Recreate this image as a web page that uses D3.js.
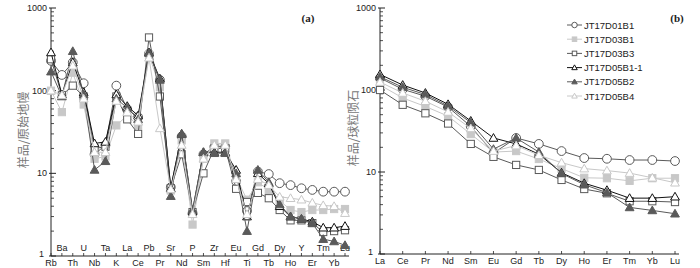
<!DOCTYPE html>
<html>
<head>
<meta charset="utf-8">
<script src="https://cdn.jsdelivr.net/npm/d3@7"></script>
<style>
  body { margin: 0; background: #fff; }
  svg { display: block; font-family: "Liberation Sans", Arial, sans-serif; }
</style>
</head>
<body>
<svg id="chart" width="700" height="268"></svg>
<script>
// spider diagram elements (primitive mantle normalised)
var pmElements = ["Rb","Ba","Th","U","Nb","Ta","K","La","Ce","Pb","Pr","Sr","Nd","P","Sm","Zr","Hf","Eu","Ti","Gd","Tb","Dy","Ho","Y","Er","Tm","Yb","Lu"];
// REE (chondrite normalised)
var reeElements = ["La","Ce","Pr","Nd","Sm","Eu","Gd","Tb","Dy","Ho","Er","Tm","Yb","Lu"];
var yTicks = [1, 10, 100, 1000];

var sampleNames = ["JT17D01B1","JT17D03B1","JT17D03B3","JT17D05B1-1","JT17D05B2","JT17D05B4"];

var pm_D01B1  = [230,155,220,123,17,22,115,60,48,280,135,6.8,28,3.3,17,21,21,8,3.5,10.5,9.8,7.6,7.2,6.6,6.3,6.0,6.0,6.0];
var pm_D03B1  = [100,55,165,68,15,16,38,50,38,270,110,6.2,25,2.4,15,23,23,9,4.8,7.8,6.3,4.7,3.6,3.4,3.6,3.6,3.7,3.7];
var pm_D03B3  = [240,88,115,85,20,21,85,45,30,440,85,6.6,17,3.4,10,20,20,6.5,4.5,5.8,5.0,3.6,2.7,2.7,2.5,1.95,2.0,2.05];
var pm_D05B1  = [290,90,220,95,23,24,90,65,50,290,140,6.6,30,3.5,18,18,18,11,3.0,10,7.5,4.0,3.0,2.8,2.6,2.2,2.2,2.3];
var pm_D05B2  = [170,85,300,90,11,14,80,62,45,285,135,5.3,30,3.6,18,17.5,17.5,10,2.0,11,7.8,4.2,3.0,2.8,2.5,1.6,1.5,1.35];
var pm_D05B4  = [100,88,200,80,18,18,75,55,42,250,35,6.4,22,3.2,15,22,22,8.5,3.2,8.5,7.2,5.2,5.0,4.8,4.4,4.1,4.0,3.3];

var ree_D01B1 = [140,102,84,62,36,17,26,22,18,14.8,14.5,14,14,13.6];
var ree_D03B1 = [115,80,63,48,29,17.5,18,14.4,11,8.5,8.4,7.8,8.4,8.4];
var ree_D03B3 = [100,66,52,39,22,15.3,12.2,10.6,8.0,6.2,5.5,4.4,4.4,4.3];
var ree_D05B1 = [155,115,92,67,42,26,22,16.5,9.8,7.3,6.0,4.8,4.8,5.0];
var ree_D05B2 = [145,108,88,64,40,19,26,17.5,9.6,7.0,5.6,3.7,3.4,3.1];
var ree_D05B4 = [125,92,73,54,34,18,21,16,13,11,10.4,9.7,8.5,7.4];

var pmSeries = [pm_D01B1, pm_D03B1, pm_D03B3, pm_D05B1, pm_D05B2, pm_D05B4];
var reeSeries = [ree_D01B1, ree_D03B1, ree_D03B3, ree_D05B1, ree_D05B2, ree_D05B4];

var dark = "#5a5a5a", light = "#c8c8c8";
var styles = [
  {line: dark, shape: "circle", fill: "#fff", stroke: dark},
  {line: light, shape: "square", fill: light, stroke: light},
  {line: dark, shape: "square", fill: "#fff", stroke: dark},
  {line: "#111", shape: "triangle", fill: "#fff", stroke: "#111"},
  {line: dark, shape: "triangle", fill: dark, stroke: dark},
  {line: light, shape: "triangle", fill: "#fff", stroke: light}
];

var svg = d3.select("#chart");

function marker(g, st, x, y, s) {
  if (st.shape == "circle") {
    g.append("circle").attr("cx", x).attr("cy", y).attr("r", s * 0.55)
      .attr("fill", st.fill).attr("stroke", st.stroke).attr("stroke-width", 1);
  } else if (st.shape == "square") {
    g.append("rect").attr("x", x - s * 0.45).attr("y", y - s * 0.45)
      .attr("width", s * 0.9).attr("height", s * 0.9)
      .attr("fill", st.fill).attr("stroke", st.stroke).attr("stroke-width", 1);
  } else {
    var h = s * 0.55;
    g.append("path")
      .attr("d", "M" + x + "," + (y - h) + "L" + (x + h) + "," + (y + h * 0.75) + "L" + (x - h) + "," + (y + h * 0.75) + "Z")
      .attr("fill", st.fill).attr("stroke", st.stroke).attr("stroke-width", 1);
  }
}

function panel(elements, series, x0, x1, yTop, yBot, twoRows, title, tag, tagX) {
  var x = d3.scalePoint().domain(elements).range([x0, x1]);
  var y = d3.scaleLog().domain([1, 1000]).range([yBot, yTop]);
  var g = svg.append("g");

  // axes lines
  g.append("line").attr("x1", x0).attr("x2", x0).attr("y1", yTop).attr("y2", yBot).attr("stroke", "#222");
  g.append("line").attr("x1", x0).attr("x2", x1 + 4).attr("y1", yBot).attr("y2", yBot).attr("stroke", "#222");

  // y ticks (log, inward)
  var minor = [];
  for (var d = 1; d < 1000; d *= 10) for (var k = 2; k <= 9; k++) minor.push(d * k);
  g.selectAll(".ymin").data(minor).enter().append("line")
    .attr("x1", x0).attr("x2", x0 + 3).attr("y1", function (v) { return y(v); }).attr("y2", function (v) { return y(v); })
    .attr("stroke", "#222").attr("stroke-width", 0.8);
  g.selectAll(".ymaj").data(yTicks).enter().append("line")
    .attr("x1", x0 - 2).attr("x2", x0 + 5).attr("y1", function (v) { return y(v); }).attr("y2", function (v) { return y(v); })
    .attr("stroke", "#222");
  g.selectAll(".ylab").data(yTicks).enter().append("text")
    .attr("x", function (v) { return v == 1 ? x0 - 7 : x0 - 4; })
    .attr("y", function (v) { return v == 1 ? y(v) + 1 : y(v) + 3; })
    .attr("text-anchor", "end").attr("font-size", 9).attr("fill", "#222")
    .text(function (v) { return v; });

  // x ticks
  g.selectAll(".xt").data(elements).enter().append("line")
    .attr("x1", function (e) { return x(e); }).attr("x2", function (e) { return x(e); })
    .attr("y1", yBot).attr("y2", yBot - 3).attr("stroke", "#222").attr("stroke-width", 0.8);
  g.selectAll(".xl").data(elements).enter().append("text")
    .attr("x", function (e) { return x(e); })
    .attr("y", function (e, i) { return twoRows && i % 2 == 1 ? yBot - 5 : yBot + 10; })
    .attr("text-anchor", "middle").attr("font-size", 9).attr("fill", "#222")
    .text(function (e) { return e; });

  // y title
  g.append("text")
    .attr("transform", "translate(" + title.x + "," + title.y + ") rotate(-90)")
    .attr("text-anchor", "middle").attr("font-size", 12)
    .attr("font-family", "'Noto Sans CJK SC', sans-serif").attr("fill", "#777")
    .text(title.text);

  g.append("text").attr("x", tagX).attr("y", yTop + 14)
    .attr("font-family", "'Liberation Serif', serif").attr("font-size", 11).attr("font-weight", "bold")
    .attr("fill", "#222").attr("text-anchor", "middle").text(tag);

  var line = d3.line().x(function (d, i) { return x(elements[i]); }).y(function (d) { return y(d); });
  series.forEach(function (vals, si) {
    var st = styles[si];
    var sg = g.append("g");
    sg.append("path").attr("d", line(vals)).attr("fill", "none").attr("stroke", st.line).attr("stroke-width", 1);
    vals.forEach(function (v, i) { marker(sg, st, x(elements[i]), y(v), 8); });
  });
}

panel(pmElements, pmSeries, 51, 345, 8, 256, true, {text: "样品/原始地幔", x: 28, y: 130}, "(a)", 308);
panel(reeElements, reeSeries, 380, 675, 8, 254, false, {text: "样品/球粒陨石", x: 358, y: 128}, "(b)", 677);

// legend
var legend = svg.append("g").selectAll(".legend").data(sampleNames).enter().append("g")
  .attr("class", "legend")
  .attr("transform", function (d, i) { return "translate(567," + (25 + i * 14.2) + ")"; });
legend.each(function (d, i) {
  var lg = d3.select(this);
  lg.append("line").attr("x1", 0).attr("x2", 15).attr("y1", 0).attr("y2", 0).attr("stroke", styles[i].line);
  marker(lg, styles[i], 7.5, 0, 5);
  lg.append("text").attr("x", 17).attr("y", 3.5).attr("font-size", 9.5).attr("fill", "#222").text(d);
});
</script>
</body>
</html>
